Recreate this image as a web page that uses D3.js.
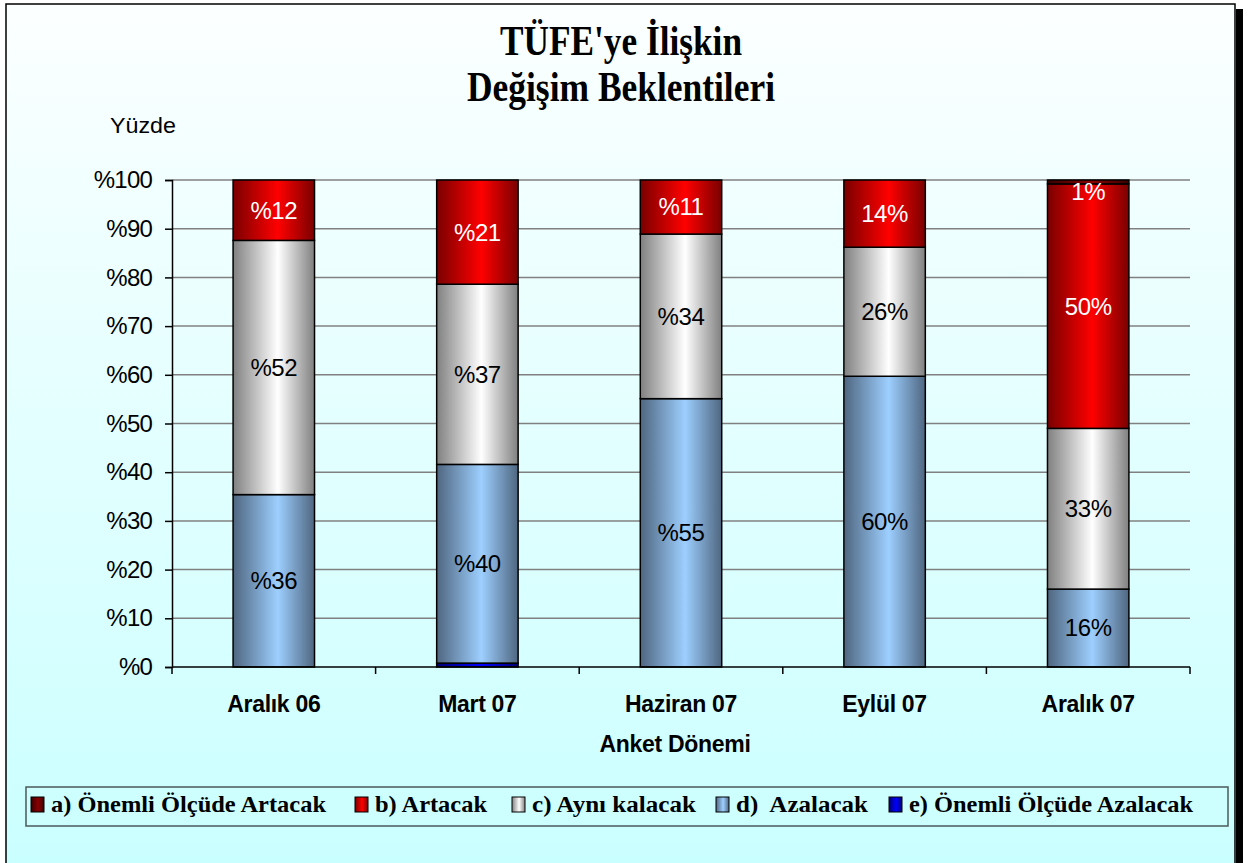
<!DOCTYPE html>
<html>
<head>
<meta charset="utf-8">
<script src="https://cdn.jsdelivr.net/npm/d3@7"></script>
<style>
  html, body { margin: 0; padding: 0; background: #ffffff; }
  svg { display: block; }
</style>
</head>
<body>
<svg id="chart" width="1248" height="863"></svg>
<script>
// ---- data ----
const categories = ["Aralık 06", "Mart 07", "Haziran 07", "Eylül 07", "Aralık 07"];
const seriesKeys = ["e", "d", "c", "b", "a"]; // stacking order bottom -> top
const seriesNames = {
  a: "a) Önemli Ölçüde Artacak",
  b: "b) Artacak",
  c: "c) Aynı kalacak",
  d: "d)  Azalacak",
  e: "e) Önemli Ölçüde Azalacak"
};
const valuesA = [0, 0, 0, 0, 0.8];
const valuesB = [12.4, 21.4, 11.1, 13.8, 50.2];
const valuesC = [52.2, 37.0, 33.8, 26.5, 33.0];
const valuesD = [35.4, 40.8, 55.1, 59.7, 16.0];
const valuesE = [0, 0.8, 0, 0, 0];
const labelsA = ["", "", "", "", "1%"];
const labelsB = ["%12", "%21", "%11", "14%", "50%"];
const labelsC = ["%52", "%37", "%34", "26%", "33%"];
const labelsD = ["%36", "%40", "%55", "60%", "16%"];
const labelsE = ["", "", "", "", ""];
const yTicks = [0, 10, 20, 30, 40, 50, 60, 70, 80, 90, 100];
const yTickLabels = ["%0", "%10", "%20", "%30", "%40", "%50", "%60", "%70", "%80", "%90", "%100"];
const legendOrder = ["a", "b", "c", "d", "e"];

const values = { a: valuesA, b: valuesB, c: valuesC, d: valuesD, e: valuesE };
const labels = { a: labelsA, b: labelsB, c: labelsC, d: labelsD, e: labelsE };

// ---- styles ----
const grad = {
  a: ["#3a0000", "#8a0000", "#3a0000"],
  b: ["#7a0000", "#ff0000", "#7a0000"],
  c: ["#808080", "#ffffff", "#808080"],
  d: ["#4f6680", "#9dcfff", "#4f6680"],
  e: ["#000070", "#0000ff", "#000070"]
};
const labelColor = { a: "#ffffff", b: "#ffffff", c: "#000000", d: "#000000", e: "#000000" };

const svg = d3.select("#chart");
const defs = svg.append("defs");

const bg = defs.append("linearGradient").attr("id", "bg")
  .attr("x1", 0).attr("y1", 0).attr("x2", 0).attr("y2", 1);
bg.append("stop").attr("offset", "0").attr("stop-color", "#fcffff");
bg.append("stop").attr("offset", "1").attr("stop-color", "#c9ffff");

Object.keys(grad).forEach(k => {
  const g = defs.append("linearGradient").attr("id", "g_" + k)
    .attr("x1", 0).attr("y1", 0).attr("x2", 1).attr("y2", 0);
  g.append("stop").attr("offset", "0").attr("stop-color", grad[k][0]);
  g.append("stop").attr("offset", "0.55").attr("stop-color", grad[k][1]);
  g.append("stop").attr("offset", "1").attr("stop-color", grad[k][2]);
});

// frame + shadow
svg.append("rect").attr("x", 1236).attr("y", 9).attr("width", 7).attr("height", 870).attr("fill", "#000");
svg.append("rect").attr("x", 6).attr("y", 4).attr("width", 1229).attr("height", 880)
  .attr("fill", "url(#bg)").attr("stroke", "#000").attr("stroke-width", 1.5);

// title
const titleLines = ["TÜFE'ye İlişkin", "Değişim Beklentileri"];
const titleW = [242, 308];
const titleY = [55, 101];
titleLines.forEach((t, i) => {
  svg.append("text").attr("x", 621).attr("y", titleY[i])
    .attr("text-anchor", "middle")
    .attr("font-family", "'Liberation Serif', 'Times New Roman', serif")
    .attr("font-weight", "bold").attr("font-size", 43)
    .attr("textLength", titleW[i]).attr("lengthAdjust", "spacingAndGlyphs")
    .text(t);
});

// scales
const pLeft = 172, pRight = 1190, pTop = 180, pBottom = 667;
const x = d3.scaleBand().domain(categories).range([pLeft, pRight]).paddingInner(0.6).paddingOuter(0.3);
const y = d3.scaleLinear().domain([0, 100]).range([pBottom, pTop]);

// gridlines
svg.append("g").selectAll("line").data(yTicks.filter(v => v > 0)).join("line")
  .attr("x1", pLeft).attr("x2", pRight)
  .attr("y1", d => y(d)).attr("y2", d => y(d))
  .attr("stroke", "#808080").attr("stroke-width", 1.5);

// y axis
const yAxis = d3.axisLeft(y).tickValues(yTicks).tickSize(7).tickPadding(13)
  .tickFormat((d, i) => yTickLabels[i]);
const gy = svg.append("g").attr("transform", `translate(${pLeft},0)`).call(yAxis);
gy.select(".domain").attr("stroke", "#000").attr("stroke-width", 1.5);
gy.selectAll(".tick line").attr("stroke", "#000").attr("stroke-width", 1.5);
gy.selectAll(".tick text")
  .attr("font-family", "'Liberation Sans', Arial, sans-serif")
  .attr("font-size", 24).attr("letter-spacing", -0.8).attr("fill", "#000");

// y axis label
svg.append("text").attr("x", 110).attr("y", 133)
  .attr("font-family", "'Liberation Sans', Arial, sans-serif").attr("font-size", 22)
  .attr("textLength", 66).attr("lengthAdjust", "spacingAndGlyphs")
  .text("Yüzde");

// stacked data
const rows = categories.map((c, i) => {
  const r = { cat: c };
  seriesKeys.forEach(k => r[k] = values[k][i]);
  return r;
});
const stack = d3.stack().keys(seriesKeys)(rows);

const gBars = svg.append("g");
stack.forEach(layer => {
  const k = layer.key;
  gBars.append("g").selectAll("rect").data(layer.filter(d => d[1] - d[0] > 0)).join("rect")
    .attr("x", d => x(d.data.cat))
    .attr("width", x.bandwidth())
    .attr("y", d => y(d[1]))
    .attr("height", d => y(d[0]) - y(d[1]))
    .attr("fill", `url(#g_${k})`)
    .attr("stroke", "#000").attr("stroke-width", 1.5);
});

// x axis (drawn after bars)
const step = x.step();
svg.append("line").attr("x1", pLeft).attr("x2", pRight).attr("y1", pBottom).attr("y2", pBottom)
  .attr("stroke", "#000").attr("stroke-width", 1.5);
svg.append("g").selectAll("line").data(d3.range(categories.length + 1)).join("line")
  .attr("x1", i => pLeft + i * step).attr("x2", i => pLeft + i * step)
  .attr("y1", pBottom).attr("y2", pBottom + 7)
  .attr("stroke", "#000").attr("stroke-width", 1.5);
svg.append("g").selectAll("text").data(categories).join("text")
  .attr("x", d => x(d) + x.bandwidth() / 2)
  .attr("y", 712)
  .attr("text-anchor", "middle")
  .attr("font-family", "'Liberation Sans', Arial, sans-serif")
  .attr("font-weight", "bold").attr("font-size", 23).attr("letter-spacing", -0.3)
  .text(d => d);
svg.append("text").attr("x", 675).attr("y", 752).attr("text-anchor", "middle")
  .attr("font-family", "'Liberation Sans', Arial, sans-serif")
  .attr("font-weight", "bold").attr("font-size", 23).attr("letter-spacing", -0.3)
  .text("Anket Dönemi");

// data labels
const gLab = svg.append("g");
stack.forEach(layer => {
  const k = layer.key;
  layer.forEach((d, i) => {
    const t = labels[k][i];
    if (!t) return;
    const cy = Math.max((y(d[0]) + y(d[1])) / 2, y(d[1]) + 12);
    gLab.append("text")
      .attr("x", x(d.data.cat) + x.bandwidth() / 2)
      .attr("y", cy)
      .attr("dy", "0.35em")
      .attr("text-anchor", "middle")
      .attr("font-family", "'Liberation Sans', Arial, sans-serif")
      .attr("font-size", 24).attr("letter-spacing", -0.4)
      .attr("fill", labelColor[k])
      .text(t);
  });
});

// legend
const legendX = [31, 355, 512, 716, 889];
const legendW = [275, 112, 164, 132, 284];
svg.append("rect").attr("x", 26).attr("y", 787).attr("width", 1202).attr("height", 39)
  .attr("fill", "none").attr("stroke", "#4a5a5a").attr("stroke-width", 1.5);
const lg = svg.append("g");
legendOrder.forEach((k, i) => {
  lg.append("rect").attr("x", legendX[i]).attr("y", 797).attr("width", 13).attr("height", 15)
    .attr("fill", `url(#g_${k})`).attr("stroke", "#000").attr("stroke-width", 1);
  lg.append("text").attr("x", legendX[i] + 20).attr("y", 812)
    .attr("font-family", "'Liberation Serif', 'Times New Roman', serif")
    .attr("font-weight", "bold").attr("font-size", 24)
    .style("white-space", "pre")
    .attr("textLength", legendW[i]).attr("lengthAdjust", "spacingAndGlyphs")
    .text(seriesNames[k]);
});
</script>
</body>
</html>
